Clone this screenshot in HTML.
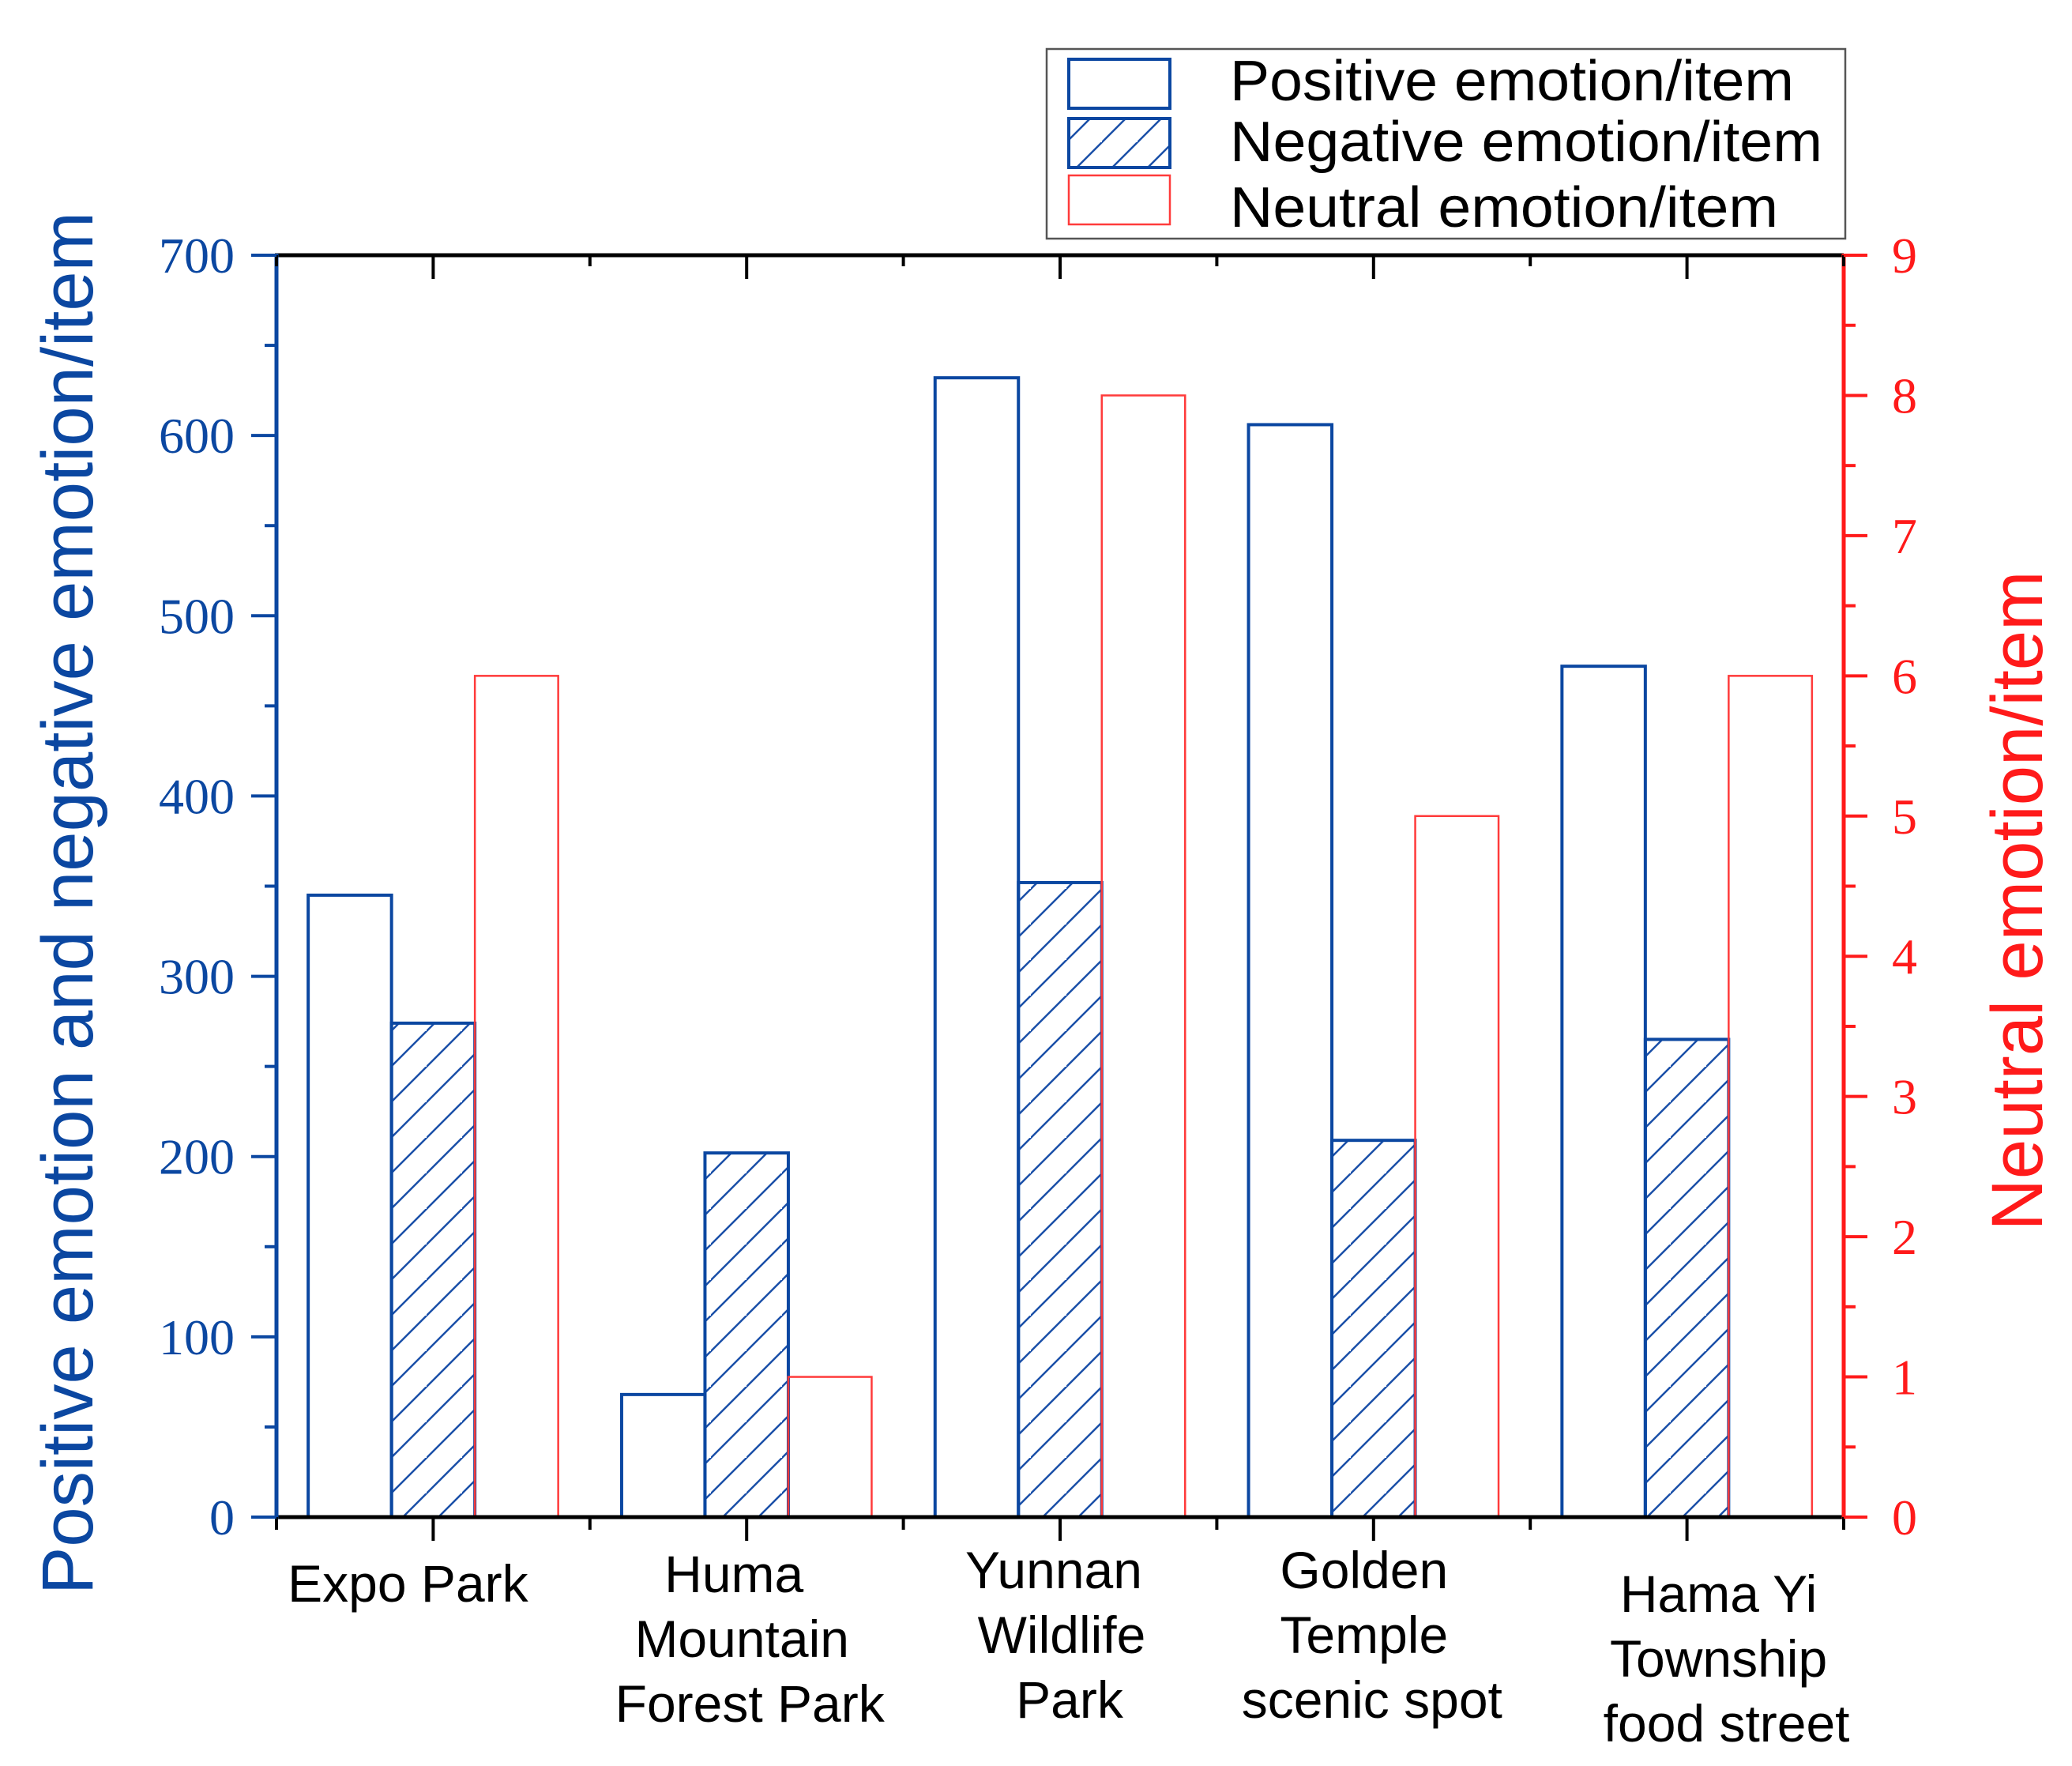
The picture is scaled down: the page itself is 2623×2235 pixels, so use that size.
<!DOCTYPE html>
<html><head><meta charset="utf-8"><style>
body{margin:0;background:#fff}
svg{display:block}
</style></head><body>
<svg id="chart" width="2623" height="2235" viewBox="0 0 2623 2235" xmlns="http://www.w3.org/2000/svg">
<defs>
<pattern id="hatch" patternUnits="userSpaceOnUse" width="45" height="45">
<path d="M-5,50 L50,-5 M-50,50 L5,-5 M40,95 L95,40" stroke="#1a4fa8" stroke-width="2.5"/>
</pattern>
</defs>
<g id="plot"></g>
</svg>
<script>
const categories = [["Expo Park"],["Huma","Mountain","Forest Park"],["Yunnan","Wildlife","Park"],["Golden","Temple","scenic spot"],["Hama Yi","Township","food street"]];
const positiveValues = [345, 68, 632, 606, 472];
const negativeValues = [274, 202, 352, 209, 265];
const neutralValues = [6, 1, 8, 5, 6];
const leftTicks = [0,100,200,300,400,500,600,700];
const rightTicks = [0,1,2,3,4,5,6,7,8,9];

const NS="http://www.w3.org/2000/svg";
const g=document.getElementById('plot');
const X0=350,X1=2334,Y0=1920,Y1=323;
const leftMax=700,rightMax=9;
const catW=(X1-X0)/categories.length;
const barW=105.5;
const yL=v=>Y0-(v/leftMax)*(Y0-Y1);
const yR=v=>Y0-(v/rightMax)*(Y0-Y1);
const xC=i=>X0+catW*(i+0.5);
function mk(tag,attrs,parent){const e=document.createElementNS(NS,tag);for(const k in attrs)e.setAttribute(k,attrs[k]);(parent||g).appendChild(e);return e;}

positiveValues.forEach((v,i)=>{
  const e=mk('rect',{x:xC(i)-1.5*barW,y:yL(v),width:barW,height:Y0-yL(v),fill:'none',stroke:'#0b47a1','stroke-width':4});
  
  
});
negativeValues.forEach((v,i)=>{
  const e=mk('rect',{x:xC(i)-0.5*barW,y:yL(v),width:barW,height:Y0-yL(v),fill:'url(#hatch)',stroke:'#0b47a1','stroke-width':4});
  
  
});
neutralValues.forEach((v,i)=>{
  const e=mk('rect',{x:xC(i)+0.5*barW,y:yR(v),width:barW,height:Y0-yR(v),fill:'none',stroke:'#ff3b3b','stroke-width':2.5});
  
  
});

let a;
a=mk('line',{x1:X0-2,y1:Y1,x2:X1,y2:Y1,stroke:'#000','stroke-width':5});


a=mk('line',{x1:X0-2,y1:Y0,x2:X1+2,y2:Y0,stroke:'#000','stroke-width':5});


a=mk('line',{x1:X0,y1:Y1-2,x2:X0,y2:Y0+2,stroke:'#0b47a1','stroke-width':5});


a=mk('line',{x1:X1,y1:Y1-2,x2:X1,y2:Y0+2,stroke:'#ff1a1a','stroke-width':5});



for(let k=0;k<=categories.length*2;k++){
  const x=X0+k*catW/2, major=k%2===1;
  mk('line',{x1:x,y1:Y0,x2:x,y2:Y0+(major?30:16),stroke:'#000','stroke-width':4});
  mk('line',{x1:x,y1:Y1,x2:x,y2:Y1+(major?30:14),stroke:'#000','stroke-width':4});
}
leftTicks.forEach((v,i)=>{
  mk('line',{x1:X0-32,y1:yL(v),x2:X0,y2:yL(v),stroke:'#0b47a1','stroke-width':4});
  if(i<leftTicks.length-1){const m=(v+leftTicks[i+1])/2;mk('line',{x1:X0-15,y1:yL(m),x2:X0,y2:yL(m),stroke:'#0b47a1','stroke-width':4});}
  const t=mk('text',{x:297,y:yL(v)+22,'text-anchor':'end','font-family':'"Liberation Serif",serif','font-size':64,fill:'#0b47a1'});
  t.textContent=v;
  
  
});
rightTicks.forEach((v,i)=>{
  mk('line',{x1:X1,y1:yR(v),x2:X1+30,y2:yR(v),stroke:'#ff1a1a','stroke-width':4});
  if(i<rightTicks.length-1){const m=(v+rightTicks[i+1])/2;mk('line',{x1:X1,y1:yR(m),x2:X1+15,y2:yR(m),stroke:'#ff1a1a','stroke-width':4});}
  const t=mk('text',{x:2395,y:yR(v)+22,'text-anchor':'start','font-family':'"Liberation Serif",serif','font-size':64,fill:'#ff1a1a'});
  t.textContent=v;
  
  
});

const labelBase=[2027,2015,2010,2010,2040];
const labelOff=[[-32],[-16,-6,4],[-8,2,12],[-12,-12,-2],[40,40,50]];
categories.forEach((lines,i)=>{
  lines.forEach((s,j)=>{
    const t=mk('text',{x:xC(i)+labelOff[i][j],y:labelBase[i]+j*82,'text-anchor':'middle','font-family':'"Liberation Sans",sans-serif','font-size':66,fill:'#000'});
    t.textContent=s;
    
    
  });
});

let t=mk('text',{x:0,y:0,transform:'translate(117,1143) rotate(-90)','text-anchor':'middle','font-family':'"Liberation Sans",sans-serif','font-size':92,fill:'#0b47a1',textLength:1750,lengthAdjust:'spacingAndGlyphs'});
t.textContent='Positive emotion and negative emotion/item';


t=mk('text',{x:0,y:0,transform:'translate(2585,1140) rotate(-90)','text-anchor':'middle','font-family':'"Liberation Sans",sans-serif','font-size':92,fill:'#ff1a1a',textLength:835,lengthAdjust:'spacingAndGlyphs'});
t.textContent='Neutral emotion/item';



const lg=mk('g',{});


mk('rect',{x:1325,y:62,width:1011,height:240,fill:'#fff',stroke:'#555','stroke-width':2.5},lg);
const legItems=[['Positive emotion/item','none','#0b47a1',4,75,127,714],['Negative emotion/item','url(#hatch)','#0b47a1',4,150,204,750],['Neutral emotion/item','none','#ff3b3b',2.5,222,287,694]];
legItems.forEach(([s,f,c,w,ry,by,tl])=>{
  const sw=mk('rect',{x:1353,y:ry,width:128,height:62,fill:f,stroke:c,'stroke-width':w},lg);
  
  
  const tx=mk('text',{x:1557,y:by,'font-family':'"Liberation Sans",sans-serif','font-size':72,fill:'#000',textLength:tl,lengthAdjust:'spacingAndGlyphs'},lg);
  tx.textContent=s;
  
  
});
</script>
</body></html>
